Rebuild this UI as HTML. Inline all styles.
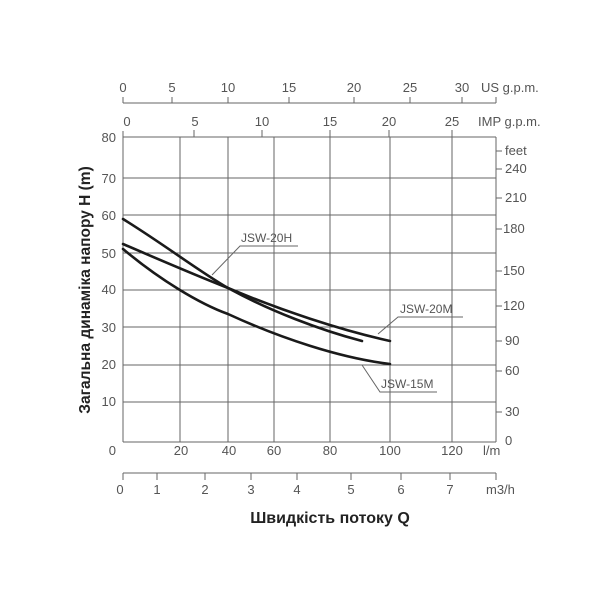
<!DOCTYPE html>
<html><head><meta charset="utf-8"><style>
html,body{margin:0;padding:0;background:#fff;}
svg text{font-family:"Liberation Sans","DejaVu Sans",sans-serif;fill:#555;}
</style></head><body>
<svg width="600" height="600" viewBox="0 0 600 600" xmlns="http://www.w3.org/2000/svg">
<g stroke="#666" stroke-width="1" fill="none">
<!-- top US axis -->
<line x1="123" y1="103" x2="496" y2="103"/>
<line x1="123" y1="103" x2="123" y2="97"/><line x1="172" y1="103" x2="172" y2="97"/><line x1="228" y1="103" x2="228" y2="97"/><line x1="289" y1="103" x2="289" y2="97"/><line x1="354" y1="103" x2="354" y2="97"/><line x1="410" y1="103" x2="410" y2="97"/><line x1="462" y1="103" x2="462" y2="97"/><line x1="496" y1="103" x2="496" y2="97"/>
<!-- IMP ticks -->
<line x1="194" y1="137" x2="194" y2="130"/><line x1="262" y1="137" x2="262" y2="130"/><line x1="330" y1="137" x2="330" y2="130"/><line x1="389" y1="137" x2="389" y2="130"/><line x1="452" y1="137" x2="452" y2="130"/>
<!-- plot frame -->
<line x1="123" y1="131" x2="123" y2="442"/>
<line x1="496" y1="137" x2="496" y2="442"/>
<line x1="123" y1="442" x2="496" y2="442"/>
<!-- horizontal grid -->
<line x1="123" y1="137" x2="496" y2="137"/><line x1="123" y1="178" x2="496" y2="178"/><line x1="123" y1="215" x2="496" y2="215"/><line x1="123" y1="253" x2="496" y2="253"/><line x1="123" y1="290" x2="496" y2="290"/><line x1="123" y1="327" x2="496" y2="327"/><line x1="123" y1="365" x2="496" y2="365"/><line x1="123" y1="402" x2="496" y2="402"/>
<!-- vertical grid -->
<line x1="180" y1="137" x2="180" y2="442"/><line x1="228" y1="137" x2="228" y2="442"/><line x1="274" y1="137" x2="274" y2="442"/><line x1="330" y1="137" x2="330" y2="442"/><line x1="390" y1="137" x2="390" y2="442"/><line x1="452" y1="137" x2="452" y2="442"/>
<!-- right ticks -->
<line x1="496" y1="151" x2="502" y2="151"/><line x1="496" y1="169" x2="502" y2="169"/><line x1="496" y1="198" x2="502" y2="198"/><line x1="496" y1="229" x2="502" y2="229"/><line x1="496" y1="271" x2="502" y2="271"/><line x1="496" y1="306" x2="502" y2="306"/><line x1="496" y1="341" x2="502" y2="341"/><line x1="496" y1="371" x2="502" y2="371"/><line x1="496" y1="412" x2="502" y2="412"/>
<!-- m3/h axis -->
<line x1="123" y1="473" x2="496" y2="473"/>
<line x1="123" y1="473" x2="123" y2="480"/><line x1="157" y1="473" x2="157" y2="480"/><line x1="205" y1="473" x2="205" y2="480"/><line x1="251" y1="473" x2="251" y2="480"/><line x1="297" y1="473" x2="297" y2="480"/><line x1="351" y1="473" x2="351" y2="480"/><line x1="401" y1="473" x2="401" y2="480"/><line x1="450" y1="473" x2="450" y2="480"/><line x1="496" y1="473" x2="496" y2="480"/>
<!-- label leaders -->
<polyline points="298,246 240,246 212,275"/>
<polyline points="463,317 398,317 378,334"/>
<polyline points="437,392 380,392 362,365"/>
</g>
<!-- curves -->
<g stroke="#1a1a1a" stroke-width="2.6" fill="none" stroke-linecap="round">
<path d="M123,219 C165,245 200,272 228,288 C270,311 320,330 362,341"/>
<path d="M123,244 C160,260 195,275 228,288 C280,310 340,330 390,341"/>
<path d="M123,249 C160,280 200,304 228,314 C280,338 340,358 390,364"/>
</g>
<g font-size="12" fill="#555">
<text x="241" y="242">JSW-20H</text>
<text x="400" y="313">JSW-20M</text>
<text x="381" y="388">JSW-15M</text>
</g>
<g font-size="13" text-anchor="middle">
<text x="123" y="92">0</text><text x="172" y="92">5</text><text x="228" y="92">10</text><text x="289" y="92">15</text><text x="354" y="92">20</text><text x="410" y="92">25</text><text x="462" y="92">30</text>
<text x="127" y="126">0</text><text x="195" y="126">5</text><text x="262" y="126">10</text><text x="330" y="126">15</text><text x="389" y="126">20</text><text x="452" y="126">25</text>
<text x="181" y="455">20</text><text x="229" y="455">40</text><text x="274" y="455">60</text><text x="330" y="455">80</text><text x="390" y="455">100</text><text x="452" y="455">120</text>
<text x="120" y="494">0</text><text x="157" y="494">1</text><text x="205" y="494">2</text><text x="251" y="494">3</text><text x="297" y="494">4</text><text x="351" y="494">5</text><text x="401" y="494">6</text><text x="450" y="494">7</text>
</g>
<text x="481" y="92" font-size="13">US g.p.m.</text>
<text x="478" y="126" font-size="13">IMP g.p.m.</text>
<text x="483" y="455" font-size="13">l/m</text>
<text x="486" y="494" font-size="13">m3/h</text>
<g font-size="13" text-anchor="end">
<text x="116" y="142">80</text><text x="116" y="183">70</text><text x="116" y="220">60</text><text x="116" y="258">50</text><text x="116" y="294">40</text><text x="116" y="332">30</text><text x="116" y="369">20</text><text x="116" y="406">10</text><text x="116" y="455">0</text>
</g>
<g font-size="13">
<text x="505" y="155">feet</text><text x="505" y="173">240</text><text x="505" y="202">210</text><text x="503" y="233">180</text><text x="503" y="275">150</text><text x="503" y="310">120</text><text x="505" y="345">90</text><text x="505" y="375">60</text><text x="505" y="416">30</text><text x="505" y="445">0</text>
</g>
<text x="330" y="523" font-size="16" font-weight="bold" text-anchor="middle" style="fill:#222">Швидкість потоку Q</text>
<text transform="translate(90,290) rotate(-90)" font-size="15.5" font-weight="bold" text-anchor="middle" style="fill:#222">Загальна динаміка напору H (m)</text>
</svg>
</body></html>
